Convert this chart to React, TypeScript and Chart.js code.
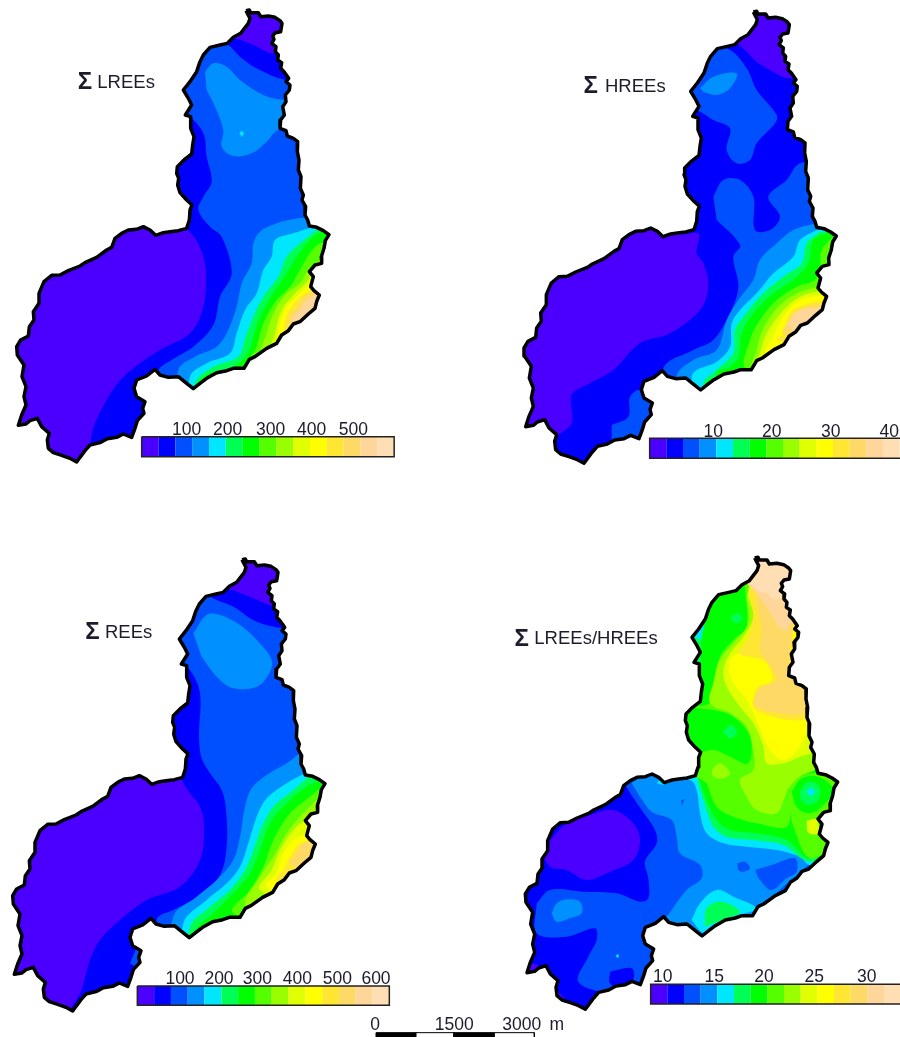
import React, { useEffect, useRef } from "react";
import { Chart, registerables } from "chart.js";

type P = [number, number];
type Zone = [number, P[]];

// All coordinates are in map units: 3 units = 1 page pixel.
const MAP_WIDTH = 2700;
const MAP_HEIGHT = 3111;

const COLOR_RAMP = [
  "#4b00ff", "#0000ff", "#0050ff", "#0090ff", "#00e6ff",
  "#00ff55", "#00ff00", "#55ff00", "#99ff00", "#e0ff00",
  "#ffff00", "#ffe633", "#ffd966", "#ffd699", "#ffdeb3",
];

const BASIN_OUTLINE: P[] = [
  [738,32],[748,30],[752,38],[775,38],[782,50],[805,48],[825,52],[840,62],[846,70],[842,95],[826,98],[818,108],[822,118],[815,130],
  [828,140],[826,155],[835,165],[833,180],[845,188],[842,205],[852,215],[866,235],[858,245],[870,255],[868,270],[856,285],[858,305],
  [848,320],[853,345],[842,360],[840,385],[858,392],[862,408],[880,415],[893,425],[892,455],[897,480],[895,510],[903,530],[901,565],
  [910,585],[906,600],[917,620],[915,645],[923,660],[928,678],[950,682],[970,692],[987,704],[976,722],[972,745],[964,770],[965,790],
  [945,795],[928,815],[940,830],[932,860],[942,872],[958,885],[950,905],[945,925],[925,942],[900,965],[880,972],[865,992],[845,1005],
  [830,1030],[800,1045],[765,1070],[748,1078],[732,1105],[700,1105],[680,1112],[650,1118],[620,1135],[600,1150],[580,1166],[560,1150],
  [535,1130],[505,1132],[480,1125],[465,1108],[440,1128],[410,1140],[402,1165],[410,1190],[435,1205],[428,1225],[432,1240],[412,1262],
  [405,1285],[395,1312],[370,1302],[350,1312],[322,1316],[300,1328],[270,1335],[255,1352],[240,1372],[230,1386],[210,1375],[185,1366],
  [160,1358],[145,1345],[142,1320],[148,1300],[125,1280],[112,1255],[90,1262],[78,1272],[55,1276],[65,1245],[78,1215],[72,1190],[78,1160],
  [66,1130],[72,1095],[52,1065],[50,1040],[62,1020],[85,1008],[88,980],[102,960],[100,935],[117,910],[117,880],[132,845],[155,826],
  [180,825],[205,812],[240,798],[255,788],[290,772],[320,750],[335,742],[345,715],[365,700],[385,690],[410,688],[430,680],[450,690],
  [467,706],[490,698],[510,695],[535,692],[560,685],[568,660],[570,630],[576,615],[560,600],[540,578],[533,555],[536,535],[530,520],
  [532,500],[552,480],[575,462],[578,435],[582,410],[572,385],[572,350],[556,345],[575,315],[565,295],[550,270],[570,245],[590,215],
  [600,185],[610,165],[630,142],[660,135],[682,130],[700,112],[722,100],[745,70],[750,55],
];

// [ramp level, polygon] painted in order, clipped to the basin.
const LREES_ZONES: Zone[] = [
  [0, [[0,0],[1200,0],[1200,1500],[0,1500]]],
  [1, [[500,100],[700,115],[760,135],[815,160],[900,160],[1100,160],[1100,1500],[270,1400],[270,1340],[285,1270],[345,1160],[400,1105],[480,1050],[570,1000],[610,920],[618,830],[610,770],[585,715],[555,680],[500,600]]],
  [2, [[620,100],[685,135],[720,170],[770,205],[860,240],[1100,240],[1100,1500],[500,1300],[475,1115],[515,1080],[580,1040],[640,975],[660,890],[695,820],[665,710],[630,680],[595,630],[610,590],[635,545],[620,470],[610,400],[560,340],[500,300],[500,100]]],
  [3, [[615,215],[640,190],[680,200],[720,240],[790,285],[850,300],[900,300],[900,390],[835,390],[800,425],[755,460],[700,468],[665,440],[670,390],[645,320],[620,270]]],
  [3, [[920,655],[895,655],[830,670],[780,695],[760,730],[755,790],[725,850],[710,920],[680,1000],[650,1040],[585,1070],[535,1110],[540,1300],[1100,1400],[1100,655]]],
  [4, [[718,400],[725,392],[733,400],[725,410]]],
  [4, [[940,680],[880,700],[825,720],[815,770],[790,810],[770,880],[735,930],[710,1000],[690,1060],[620,1090],[570,1130],[575,1250],[1100,1250],[1100,680]]],
  [5, [[950,690],[900,730],[860,770],[835,830],[790,890],[760,950],[735,1015],[715,1070],[640,1100],[585,1150],[590,1250],[1100,1250],[1100,690]]],
  [6, [[970,690],[930,720],[890,770],[860,820],[820,880],[780,950],[760,1010],[740,1065],[700,1100],[620,1125],[590,1160],[600,1250],[1100,1250],[1100,690]]],
  [7, [[990,720],[945,740],[905,800],[870,860],[830,900],[790,970],[770,1040],[750,1090],[1100,1250],[1100,720]]],
  [8, [[990,740],[960,780],[925,810],[900,850],[860,880],[825,930],[800,1000],[790,1070],[1100,1250],[1100,740]]],
  [9, [[945,800],[925,840],[885,880],[845,930],[825,1000],[820,1040],[1100,1100],[1100,800]]],
  [10, [[930,850],[890,890],[860,920],[840,970],[840,1010],[1100,1100],[1100,850]]],
  [11, [[945,865],[900,890],[875,920],[855,960],[860,1000],[1100,1100],[1100,865]]],
  [12, [[950,870],[915,890],[890,925],[870,950],[870,985],[1100,1100],[1100,870]]],
  [13, [[955,880],[920,900],[900,930],[880,950],[885,975],[1100,1100],[1100,880]]],
];

const HREES_ZONES: Zone[] = [
  [0, [[0,0],[1200,0],[1200,1500],[0,1500]]],
  [1, [[600,100],[715,135],[740,155],[770,185],[810,210],[865,235],[1100,235],[1100,1500],[150,1500],[165,1320],[215,1270],[215,1185],[270,1150],[340,1110],[420,1030],[510,1000],[600,930],[625,860],[610,790],[590,760],[595,700],[540,700],[500,600],[500,100]]],
  [2, [[600,130],[690,150],[740,205],[770,270],[830,345],[825,370],[770,430],[750,480],[710,490],[680,450],[690,385],[640,360],[600,335],[560,320],[500,200]]],
  [2, [[640,590],[670,540],[720,540],[760,590],[765,690],[810,690],[840,650],[805,590],[860,540],[900,490],[1000,490],[1100,660],[1100,1300],[480,1300],[490,1105],[580,1050],[640,1020],[690,940],[715,860],[700,770],[720,735],[650,660]]],
  [2, [[335,1275],[385,1250],[390,1190],[420,1170],[470,1210],[470,1350],[335,1340]]],
  [3, [[600,265],[640,230],[710,220],[690,265],[650,285],[610,275]]],
  [3, [[950,670],[880,690],[830,730],[780,780],[760,840],[715,900],[680,960],[650,1050],[580,1080],[530,1130],[570,1300],[1100,1300],[1100,670]]],
  [4, [[950,690],[900,720],[880,770],[820,820],[770,880],[720,930],[695,970],[690,1040],[650,1085],[590,1110],[575,1130],[600,1300],[1100,1300],[1100,690]]],
  [5, [[960,695],[920,730],[905,790],[850,830],[790,880],[730,950],[705,990],[700,1060],[650,1110],[610,1150],[620,1300],[1100,1300],[1100,695]]],
  [6, [[990,695],[940,720],[925,790],[880,840],[820,880],[760,940],[725,1000],[715,1070],[690,1100],[650,1120],[660,1300],[1100,1300],[1100,695]]],
  [7, [[1010,700],[965,750],[960,800],[945,840],[890,860],[830,900],[780,960],[750,1020],[740,1110],[1100,1300],[1100,700]]],
  [8, [[960,860],[900,875],[840,915],[790,985],[770,1050],[760,1110],[1100,1110],[1100,860]]],
  [9, [[975,870],[900,890],[850,930],[800,1000],[780,1060],[775,1090],[1100,1100],[1100,870]]],
  [10, [[980,885],[900,900],[850,950],[820,1010],[800,1060],[1100,1100],[1100,885]]],
  [11, [[980,900],[910,915],[870,940],[850,1000],[830,1020],[1100,1100],[1100,900]]],
  [12, [[975,910],[900,930],[860,970],[850,1000],[1100,1100],[1100,910]]],
  [13, [[970,925],[900,930],[870,960],[870,985],[1100,1100],[1100,925]]],
];

const REES_ZONES: Zone[] = [
  [0, [[0,0],[1200,0],[1200,1500],[0,1500]]],
  [1, [[600,100],[695,120],[760,145],[810,165],[860,170],[1100,170],[1100,1500],[215,1400],[245,1320],[270,1230],[300,1170],[360,1110],[440,1050],[540,1010],[600,930],[612,830],[600,770],[570,730],[545,690],[500,600],[500,100]]],
  [2, [[610,130],[650,150],[700,170],[770,215],[860,235],[1100,235],[1100,1400],[480,1400],[470,1110],[520,1080],[600,1040],[660,975],[680,890],[678,780],[665,720],[630,670],[605,625],[597,560],[600,430],[570,360],[530,330],[500,100]]],
  [2, [[390,1240],[415,1180],[450,1180],[440,1270]]],
  [3, [[580,250],[620,195],[660,195],[720,225],[770,270],[815,330],[805,375],[770,410],[700,415],[650,380],[605,320]]],
  [3, [[900,610],[860,640],[800,675],[755,715],[735,770],[720,860],[700,930],[650,990],[590,1040],[520,1100],[520,1300],[1100,1300],[1100,610]]],
  [4, [[915,670],[860,700],[800,745],[770,800],[745,880],[720,950],[680,1000],[620,1050],[550,1120],[560,1300],[1100,1300],[1100,670]]],
  [5, [[925,680],[880,720],[820,770],[790,820],[760,900],[735,960],[690,1020],[630,1070],[570,1130],[570,1300],[1100,1300],[1100,680]]],
  [6, [[965,690],[920,710],[860,760],[810,820],[780,900],[750,970],[700,1030],[640,1090],[580,1150],[580,1300],[1100,1300],[1100,690]]],
  [7, [[965,710],[930,740],[870,790],[820,870],[790,950],[750,1020],[700,1090],[1100,1300],[1100,710]]],
  [8, [[960,740],[900,800],[860,850],[820,920],[780,980],[740,1070],[1100,1300],[1100,740]]],
  [9, [[915,810],[880,840],[840,900],[815,960],[780,1020],[1100,1200],[1100,810]]],
  [10, [[925,850],[880,870],[850,910],[830,970],[800,1010],[1100,1200],[1100,850]]],
  [11, [[945,870],[900,880],[870,920],[850,960],[830,990],[1100,1200],[1100,870]]],
  [12, [[945,870],[910,880],[885,920],[870,940],[1100,1100],[1100,870]]],
];

const RATIO_ZONES: Zone[] = [
  [1, [[0,0],[1200,0],[1200,1500],[0,1500]]],
  [0, [[160,860],[200,820],[270,795],[340,780],[400,820],[420,870],[400,930],[330,965],[260,990],[200,960],[150,950],[130,900],[160,860]]],
  [0, [[90,1240],[115,1245],[110,1268],[80,1268]]],
  [0, [[165,1315],[195,1347],[175,1345]]],
  [2, [[110,1060],[150,1020],[250,1025],[350,1030],[420,1055],[445,1045],[445,985],[435,935],[470,880],[465,840],[425,780],[385,720],[370,680],[1100,680],[1100,1100],[820,1040],[600,1100],[470,1340],[330,1330],[235,1295],[265,1220],[290,1170],[285,1135],[200,1160],[110,1150],[110,1060]]],
  [1, [[330,1265],[395,1255],[400,1290],[370,1320],[330,1300],[330,1265]]],
  [3, [[395,700],[420,740],[455,785],[515,810],[530,860],[540,910],[600,945],[605,985],[560,1020],[515,1080],[500,1110],[600,1170],[780,1100],[830,1030],[930,940],[1000,850],[800,800],[600,690],[480,680],[440,660]]],
  [2, [[712,940],[735,935],[750,955],[730,965],[715,960],[712,940]]],
  [2, [[765,960],[815,945],[885,925],[890,965],[860,985],[815,1020],[780,990],[765,960]]],
  [2, [[543,750],[555,748],[545,766]]],
  [3, [[155,1090],[170,1060],[200,1048],[240,1055],[245,1090],[210,1105],[170,1115],[155,1090]]],
  [4, [[347,1218],[353,1212],[358,1218],[352,1224]]],
  [4, [[470,700],[480,690],[570,690],[590,720],[600,790],[620,850],[670,880],[740,890],[830,900],[900,920],[930,945],[1000,900],[950,800],[800,700],[600,670],[490,705]]],
  [4, [[575,1110],[600,1060],[650,1020],[700,1040],[770,1075],[720,1095],[650,1120],[610,1148],[575,1110]]],
  [5, [[615,1130],[620,1075],[665,1055],[720,1085],[680,1105],[615,1130]]],
  [5, [[590,680],[610,750],[640,830],[680,860],[760,870],[850,885],[930,935],[1020,880],[1020,690],[940,620],[930,300],[900,0],[650,0],[580,200],[560,450],[540,520],[590,630]]],
  [4, [[585,262],[605,228],[622,230],[615,262],[595,268]]],
  [6, [[595,680],[620,750],[650,810],[690,840],[770,850],[860,870],[930,925],[1020,880],[1020,690],[940,620],[930,300],[900,0],[655,0],[620,200],[605,260],[590,450],[540,500],[590,630]]],
  [7, [[620,700],[650,770],[700,800],[770,820],[860,830],[870,760],[860,720],[910,670],[960,640],[930,500],[890,390],[900,200],[860,0],[740,0],[740,230],[700,270],[660,320],[640,400],[630,460],[560,470],[640,480],[700,500],[750,560],[745,640],[690,620],[640,600],[590,620],[590,680]]],
  [5, [[690,205],[710,190],[728,205],[710,220],[690,205]]],
  [5, [[668,545],[690,525],[712,545],[690,565],[668,545]]],
  [8, [[740,140],[745,220],[700,280],[660,330],[640,400],[630,460],[690,490],[740,530],[760,600],[760,660],[720,690],[740,740],[770,780],[830,790],[860,730],[900,680],[950,650],[930,500],[890,400],[900,200],[850,0],[770,0]]],
  [8, [[635,660],[660,640],[690,670],[670,685],[640,680],[635,660]]],
  [9, [[745,140],[760,200],[730,260],[690,310],[670,360],[680,410],[720,470],[760,520],[790,590],[800,640],[850,640],[900,620],[940,600],[930,450],[880,380],[900,200],[850,0],[770,0]]],
  [10, [[770,190],[735,290],[690,330],[695,390],[740,450],[765,500],[810,600],[850,630],[900,590],[925,500],[900,300],[860,150]]],
  [11, [[745,130],[760,200],[735,280],[715,310],[795,335],[815,390],[770,415],[765,480],[930,505],[930,400],[880,350],[880,200],[860,0],[770,0]]],
  [12, [[770,150],[785,240],[780,300],[810,345],[830,390],[775,420],[770,470],[925,490],[930,420],[870,380],[880,200],[860,0],[770,0]]],
  [13, [[740,100],[770,130],[800,170],[850,240],[880,200],[860,0],[740,0]]],
  [14, [[750,100],[770,120],[800,130],[830,150],[860,100],[860,0],[740,0],[740,60]]],
  [7, [[860,720],[900,680],[960,670],[1020,700],[980,800],[950,810],[960,860],[1000,880],[930,925],[880,830],[870,780],[860,720]]],
  [6, [[875,725],[905,685],[955,680],[1000,720],[965,770],[925,790],[890,770],[875,725]]],
  [5, [[900,725],[925,695],[958,710],[955,750],[925,765],[902,748],[900,725]]],
  [4, [[920,725],[932,713],[945,725],[932,738],[920,725]]],
  [9, [[920,812],[950,808],[955,850],[925,848],[920,812]]],
];

const PANEL_NAMES = ["LREEs", "HREEs", "REEs", "LREEs/HREEs"];
const PANEL_ZONES = [LREES_ZONES, HREES_ZONES, REES_ZONES, RATIO_ZONES];
const PANEL_ORIGIN: P[] = [[0,0],[1500,0],[0,1650],[1500,1650]];
const OUTLINE_SHIFT: P[] = [[0,0],[22,4],[-12,-3],[26,-8]];
// left, step, top, bottom of each colour bar, in panel units
const BAR_BOX = [[425,50.5,1310,1370],[449,50,1315,1375],[412,50.4,1308,1366],[452,50,1303,1362]];

const TICK_TEXT = [
  ["100","200","300","400","500"],
  ["10","20","30","40"],
  ["100","200","300","400","500","600"],
  ["10","15","20","25","30"],
];
const TICK_X = [
  [560,683,812,935,1060],
  [640,815,992,1168],
  [540,657,772,892,1012,1128],
  [488,643,792,943,1100],
];
const TICK_BASE = [1305,1310,1302,1297];
const TITLE_X = [292,315,315,103];
const TITLE_BASE = [263,275,263,283];
const SIGMA_X = [255,272,277,65];

const SCALE_STOPS = [1128,1248,1362,1483,1603];
const SCALE_TEXT = ["0","1500","3000","m"];
const SCALE_TEXT_X = [1125,1363,1565,1670];
const SCALE_TOP = 3098;
const SCALE_BOTTOM = 3115;

Chart.register({
  id: "basinClip",
  beforeDatasetDraw(chart: any, args: any) {
    const ds: any = chart.data.datasets[args.index];
    if (!ds.clipPanel && ds.clipPanel !== 0) return;
    const { x, y } = chart.scales;
    const [ox, oy] = PANEL_ORIGIN[ds.clipPanel];
    const [sx, sy] = OUTLINE_SHIFT[ds.clipPanel];
    const ctx = chart.ctx;
    ctx.save();
    ctx.beginPath();
    BASIN_OUTLINE.forEach(([px, py], i) => {
      const a = x.getPixelForValue(px + ox + sx);
      const b = y.getPixelForValue(py + oy + sy);
      if (i) ctx.lineTo(a, b); else ctx.moveTo(a, b);
    });
    ctx.closePath();
    ctx.clip();
  },
  afterDatasetDraw(chart: any, args: any) {
    const ds: any = chart.data.datasets[args.index];
    if (ds.clipPanel || ds.clipPanel === 0) chart.ctx.restore();
  },
} as any);
Chart.register(...registerables);

const textPlugin = {
  id: "mapText",
  afterDraw(chart: any) {
    const { x, y } = chart.scales;
    const ctx = chart.ctx;
    const put = (t: string, vx: number, vy: number, font: string, align: CanvasTextAlign) => {
      ctx.font = font;
      ctx.textAlign = align;
      ctx.textBaseline = "alphabetic";
      ctx.fillStyle = "#1c1c2c";
      ctx.fillText(t, x.getPixelForValue(vx), y.getPixelForValue(vy));
    };
    const sans = '"Liberation Sans", Arial, sans-serif';
    ctx.save();
    PANEL_NAMES.forEach((name, p) => {
      const [ox, oy] = PANEL_ORIGIN[p];
      TICK_TEXT[p].forEach((t, i) => put(t, TICK_X[p][i] + ox, TICK_BASE[p] + oy, `17.5px ${sans}`, "center"));
      put(name, TITLE_X[p] + ox, TITLE_BASE[p] + oy, `18.5px ${sans}`, "left");
      put("Σ", SIGMA_X[p] + ox, TITLE_BASE[p] + 5 + oy, `bold 24px ${sans}`, "center");
    });
    SCALE_TEXT.forEach((t, i) => put(t, SCALE_TEXT_X[i], 3091, `17.5px ${sans}`, "center"));
    ctx.restore();
  },
};

function polygon(points: P[], ox: number, oy: number) {
  return points.map(([x, y]) => ({ x: x + ox, y: y + oy }));
}

function buildDatasets() {
  const sets: any[] = [];
  const area = (data: any[], color: string, extra: any = {}) => ({
    data, showLine: true, fill: "shape", backgroundColor: color, borderWidth: 0,
    borderColor: "rgba(0,0,0,0)", pointRadius: 0, tension: 0, ...extra,
  });
  PANEL_ZONES.forEach((zones, p) => {
    const [ox, oy] = PANEL_ORIGIN[p];
    const [sx, sy] = OUTLINE_SHIFT[p];
    zones.forEach(([level, pts]) => sets.push(area(polygon(pts, ox, oy), COLOR_RAMP[level], { clipPanel: p, tension: pts.length > 4 ? 0.35 : 0 })));
    const outline = polygon([...BASIN_OUTLINE, BASIN_OUTLINE[0]], ox + sx, oy + sy);
    sets.push({ data: outline, showLine: true, fill: false, borderColor: "#000", borderWidth: 3.5, pointRadius: 0, tension: 0, borderJoinStyle: "round" });
    const [l, w, t, b] = BAR_BOX[p];
    COLOR_RAMP.forEach((c, i) => {
      const a = l + i * w, e = l + (i + 1) * w;
      sets.push(area(polygon([[a,t],[e,t],[e,b],[a,b]], ox, oy), c));
    });
    const e = l + 15 * w;
    const frame: P[] = p === 0 || p === 2 ? [[l,t],[e,t],[e,b],[l,b],[l,t]] : [[e+30,t],[l,t],[l,b],[e+30,b]];
    sets.push({ data: polygon(frame, ox, oy), showLine: true, fill: false, borderColor: "#222", borderWidth: 1.5, pointRadius: 0, tension: 0 });
  });
  SCALE_STOPS.slice(0, -1).forEach((s, i) => {
    const e = SCALE_STOPS[i + 1];
    const box = polygon([[s,SCALE_TOP],[e,SCALE_TOP],[e,SCALE_BOTTOM],[s,SCALE_BOTTOM],[s,SCALE_TOP]], 0, 0);
    sets.push(area(box, i % 2 ? "#fff" : "#000", { borderColor: "#000", borderWidth: 1 }));
  });
  // Chart.js paints the first dataset last, so reverse to keep painter's order.
  return sets.reverse();
}

export default function App() {
  const ref = useRef<HTMLCanvasElement>(null);
  useEffect(() => {
    document.body.style.margin = "0";
    document.body.style.background = "#fff";
    const chart = new Chart(ref.current!, {
      type: "scatter",
      data: { datasets: buildDatasets() },
      plugins: [textPlugin],
      options: {
        animation: false,
        responsive: false,
        layout: { padding: 0 },
        plugins: { legend: { display: false }, tooltip: { enabled: false }, filler: { drawTime: "beforeDatasetDraw", propagate: false } },
        scales: {
          x: { type: "linear", min: 0, max: MAP_WIDTH, display: false },
          y: { type: "linear", min: 0, max: MAP_HEIGHT, reverse: true, display: false },
        },
      },
    } as any);
    return () => chart.destroy();
  }, []);
  return <canvas ref={ref} width={900} height={1037} style={{ display: "block", filter: "blur(0.5px)" }} />;
}
